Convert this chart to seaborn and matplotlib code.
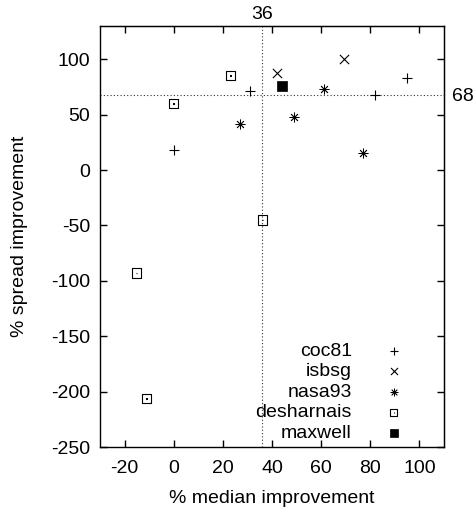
import numpy as np
import pandas as pd
import matplotlib
matplotlib.use("Agg")
import matplotlib.pyplot as plt
from matplotlib.path import Path
import seaborn as sns

# median / spread improvement per dataset
coc81_x = [0, 31, 82, 95]
coc81_y = [18, 71, 68, 83]
isbsg_x = [42, 69.5]
isbsg_y = [88, 100]
nasa93_x = [27, 49, 61, 77]
nasa93_y = [42, 48, 73, 15]
desharnais_x = [23, 0, 36, -15, -11]
desharnais_y = [85, 60, -45, -93, -206]
maxwell_x = [44]
maxwell_y = [76]

med_ref = 36
spread_ref = 68

datasets = ["coc81", "isbsg", "nasa93", "desharnais", "maxwell"]
xs = [coc81_x, isbsg_x, nasa93_x, desharnais_x, maxwell_x]
ys = [coc81_y, isbsg_y, nasa93_y, desharnais_y, maxwell_y]

df = pd.DataFrame({
    "median": np.concatenate(xs),
    "spread": np.concatenate(ys),
    "data": np.repeat(datasets, [len(v) for v in xs]),
})

sns.set_style("ticks")
plt.rcParams["font.family"] = ["Liberation Sans", "DejaVu Sans"]
plt.rcParams["font.size"] = 14
plt.rcParams["axes.unicode_minus"] = False
for k in ["text.color", "axes.labelcolor", "xtick.color", "ytick.color", "axes.edgecolor"]:
    plt.rcParams[k] = "black"

# open square with a dot in the middle (gnuplot style)
a, b = 1.0, 0.08
dot_square = Path(
    [(-a, -a), (a, -a), (a, a), (-a, a), (-a, -a),
     (-b, -b), (b, -b), (b, b), (-b, b), (-b, -b)],
    [Path.MOVETO, Path.LINETO, Path.LINETO, Path.LINETO, Path.CLOSEPOLY] * 2,
)

markers = {
    "coc81": "+",
    "isbsg": "x",
    "nasa93": (8, 2, 0),
    "desharnais": dot_square,
    "maxwell": "s",
}
widths = {"coc81": 0.8, "isbsg": 0.8, "nasa93": 0.6, "desharnais": 0.8, "maxwell": 0.5}

fig = plt.figure(figsize=(4.75, 5.08), dpi=100)
ax = fig.add_axes([0.2105, 0.12, 0.7242, 0.8288])

for name in datasets:
    sub = df[df["data"] == name]
    sns.scatterplot(data=sub, x="median", y="spread", marker=markers[name],
                    s=44, color="black", linewidth=widths[name], label=name, ax=ax)
    if name == "desharnais":
        ax.collections[-1].set_facecolor("none")
        ax.collections[-1].set_edgecolor("black")
    if name == "maxwell":
        ax.collections[-1].set_edgecolor("black")

ax.axvline(med_ref, color="#333333", ls=(0, (1, 2)), lw=0.8, zorder=0)
ax.axhline(spread_ref, color="#333333", ls=(0, (1, 2)), lw=0.8, zorder=0)

ax.set_xlim(-30, 110)
ax.set_ylim(-250, 130)
ax.set_xticks(np.arange(-20, 101, 20))
ax.set_yticks(np.arange(-250, 101, 50))
ax.tick_params(direction="in", top=True, right=True, length=5, width=1)
ax.tick_params(axis="x", pad=9)
ax.tick_params(axis="y", pad=7)
for sp in ax.spines.values():
    sp.set_linewidth(1)

ax.set_xlabel("% median improvement", labelpad=10)
ax.set_ylabel("% spread improvement", labelpad=17)

top = ax.secondary_xaxis("top")
top.set_xticks([med_ref])
top.tick_params(length=0, pad=2)
right = ax.secondary_yaxis("right")
right.set_yticks([spread_ref])
right.tick_params(length=0, pad=6)

leg = ax.legend(loc="lower right", frameon=False, markerfirst=False,
                handletextpad=1.16, handlelength=2.0, labelspacing=0.15,
                borderaxespad=0, borderpad=0,
                bbox_to_anchor=(0.911, 0.012), fontsize=14)
for h in leg.legend_handles:
    h.set_sizes([26])

fig.savefig("out.png", dpi=100)
